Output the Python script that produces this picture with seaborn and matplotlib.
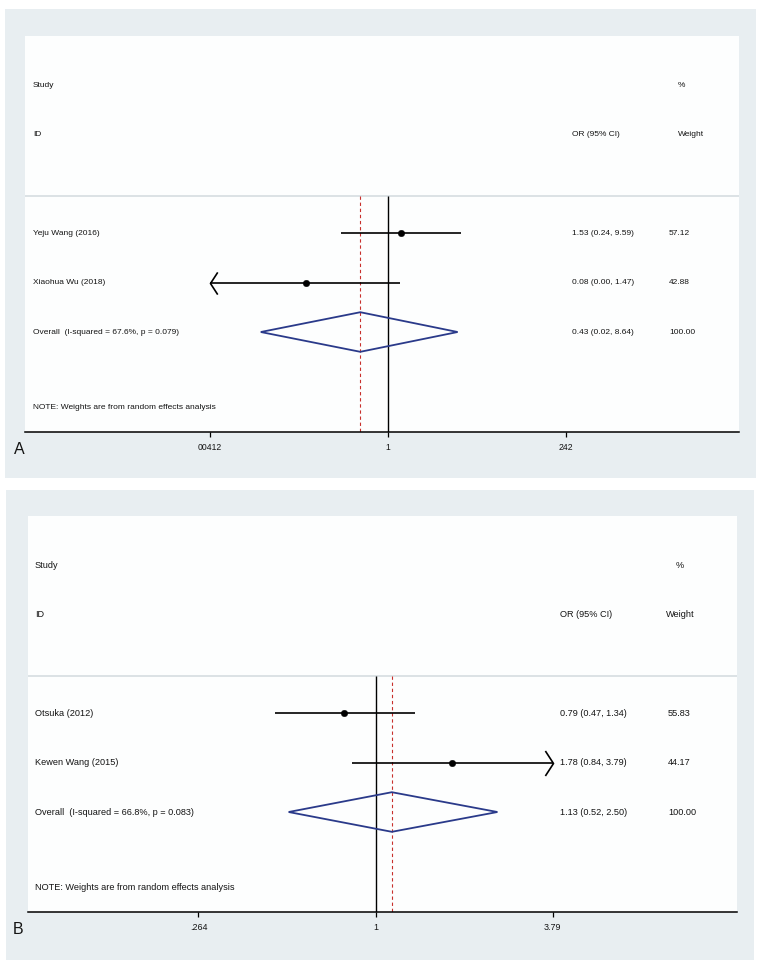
import numpy as np
import pandas as pd
import matplotlib
matplotlib.use("Agg")
import matplotlib.pyplot as plt
import matplotlib.transforms as mtransforms
from matplotlib.path import Path
from matplotlib.patches import Rectangle, Polygon
import seaborn as sns

# ---------------- data ----------------
a_studies = ["Yeju Wang (2016)", "Xiaohua Wu (2018)"]
a_or = [1.53, 0.08]
a_lo = [0.24, 0.00]
a_hi = [9.59, 1.47]
a_weight = [57.12, 42.88]
a_overall = [0.43, 0.02, 8.64]
a_overall_label = "Overall  (I-squared = 67.6%, p = 0.079)"
a_ticks = [0.00412, 1, 242]
a_ticklabels = ["00412", "1", "242"]

b_studies = ["Otsuka (2012)", "Kewen Wang (2015)"]
b_or = [0.79, 1.78]
b_lo = [0.47, 0.84]
b_hi = [1.34, 3.79]
b_weight = [55.83, 44.17]
b_overall = [1.13, 0.52, 2.50]
b_overall_label = "Overall  (I-squared = 66.8%, p = 0.083)"
b_ticks = [0.264, 1, 3.79]
b_ticklabels = [".264", "1", "3.79"]

note_text = "NOTE: Weights are from random effects analysis"

# ---------------- style ----------------
sns.set_style("white")
plt.rcParams["font.family"] = ["Liberation Sans", "DejaVu Sans"]

W, H = 764, 967
fig = plt.figure(figsize=(W / 100, H / 100), dpi=100)
fig.patch.set_facecolor("white")

GREY = "#e8eef1"
NAVY = "#2a3a8a"
RED = "#c8302c"
TXT = "#141414"


def fx(p):
    return p / W


def fy(p):
    return 1 - p / H


left_arrow = Path([(0.65, 1), (0, 0), (0.65, -1)], [Path.MOVETO, Path.LINETO, Path.LINETO])
right_arrow = Path([(-0.65, 1), (0, 0), (-0.65, -1)], [Path.MOVETO, Path.LINETO, Path.LINETO])


def draw_panel(ax_px, grey_px, studies, ors, los, his, weights, overall, ov_label,
               ticks, ticklabels, ln_lim, fs, tick_fs, arrow_ms, letter, letter_px, cols):
    gl, gt, gr, gb = grey_px
    fig.patches.append(Rectangle((fx(gl), fy(gb)), (gr - gl) / W, (gb - gt) / H,
                                 transform=fig.transFigure, facecolor=GREY,
                                 edgecolor="none", zorder=-5))
    l, t, r, b = ax_px
    ax = fig.add_axes([fx(l), fy(b), (r - l) / W, (b - t) / H])
    ax.set_zorder(1)
    ax.set_facecolor("#fdfefe")
    ax.set_xscale("log")
    ax.set_xlim(np.exp(ln_lim[0]), np.exp(ln_lim[1]))
    y_bottom, y_top = 4.02, -3.98
    ax.set_ylim(y_bottom, y_top)

    rows = np.arange(len(studies))
    ov_row = len(studies)
    sep_y = -0.74
    study_y, id_y, note_y = -2.98, -1.99, 3.52

    trans = mtransforms.blended_transform_factory(ax.transAxes, ax.transData)
    c_study, c_ci, c_w, c_wh, c_pct = cols

    # header
    ax.axhline(sep_y, color="#d9e0e3", lw=1.3, zorder=1)
    ax.text(c_study, study_y, "Study", transform=trans, va="center", ha="left", fontsize=fs, color=TXT)
    ax.text(c_pct, study_y, "%", transform=trans, va="center", ha="left", fontsize=fs, color=TXT)
    ax.text(c_study, id_y, "ID", transform=trans, va="center", ha="left", fontsize=fs, color=TXT)
    ax.text(c_ci, id_y, "OR (95% CI)", transform=trans, va="center", ha="left", fontsize=fs, color=TXT)
    ax.text(c_wh, id_y, "Weight", transform=trans, va="center", ha="left", fontsize=fs, color=TXT)

    # reference lines
    ax.vlines(1, sep_y, y_bottom, color="black", lw=1.0, zorder=2)
    ax.vlines(overall[0], sep_y, y_bottom, color=RED, lw=0.8, linestyles=(0, (3, 2.5)), zorder=2)

    lo_lim, hi_lim = ticks[0], ticks[-1]
    for i, (name, o, lo, hi, w) in enumerate(zip(studies, ors, los, his, weights)):
        y = rows[i]
        lo_c = max(lo, lo_lim)
        hi_c = min(hi, hi_lim)
        ax.hlines(y, lo_c, hi_c, color="black", lw=1.2, zorder=3)
        if lo <= lo_lim:
            ax.plot([lo_c], [y], marker=left_arrow, ms=arrow_ms, mfc="none", mec="black", mew=1.2, zorder=3)
        if hi >= hi_lim:
            ax.plot([hi_c], [y], marker=right_arrow, ms=arrow_ms, mfc="none", mec="black", mew=1.2, zorder=3)
        ax.text(c_study, y, name, transform=trans, va="center", ha="left", fontsize=fs, color=TXT)
        ax.text(c_ci, y, f"{o:.2f} ({lo:.2f}, {hi:.2f})", transform=trans, va="center", ha="left", fontsize=fs, color=TXT)
        ax.text(c_w, y, f"{w:.2f}", transform=trans, va="center", ha="left", fontsize=fs, color=TXT)

    df = pd.DataFrame({"or": ors, "row": rows})
    sns.scatterplot(data=df, x="or", y="row", ax=ax, color="black", s=22, marker="o",
                    edgecolor="black", linewidth=0.3, zorder=4, legend=False)

    # overall diamond
    est, olo, ohi = overall
    h = 0.4
    ax.add_patch(Polygon([(olo, ov_row), (est, ov_row - h), (ohi, ov_row), (est, ov_row + h)],
                         closed=True, fill=False, edgecolor=NAVY, lw=1.3, zorder=3))
    ax.text(c_study, ov_row, ov_label, transform=trans, va="center", ha="left", fontsize=fs, color=TXT)
    ax.text(c_ci, ov_row, f"{est:.2f} ({olo:.2f}, {ohi:.2f})", transform=trans, va="center", ha="left", fontsize=fs, color=TXT)
    ax.text(c_w, ov_row, "100.00", transform=trans, va="center", ha="left", fontsize=fs, color=TXT)

    ax.text(c_study, note_y, note_text, transform=trans, va="center", ha="left", fontsize=fs, color=TXT)

    # axis
    for s in ["top", "left", "right"]:
        ax.spines[s].set_visible(False)
    ax.spines["bottom"].set_color("black")
    ax.spines["bottom"].set_linewidth(1.1)
    ax.set_xticks(ticks)
    ax.set_xticklabels(ticklabels)
    ax.minorticks_off()
    ax.tick_params(axis="x", direction="out", length=3.8, width=0.9, pad=4,
                   labelsize=tick_fs, colors="black", labelcolor=TXT, bottom=True)
    ax.set_yticks([])
    ax.set_xlabel("")
    ax.set_ylabel("")
    fig.text(fx(letter_px[0]), fy(letter_px[1]), letter, ha="center", va="center",
             fontsize=11.5, color=TXT)
    return ax


# panel A
draw_panel(ax_px=(25, 36, 739, 432), grey_px=(5, 9, 756, 478),
           studies=a_studies, ors=a_or, los=a_lo, his=a_hi, weights=a_weight,
           overall=a_overall, ov_label=a_overall_label,
           ticks=a_ticks, ticklabels=a_ticklabels, ln_lim=(-11.18, 10.83),
           fs=6.0, tick_fs=6.2, arrow_ms=16, letter="A", letter_px=(19.5, 450),
           cols=((33 - 25) / 714, (572 - 25) / 714, (669 - 25) / 714,
                 (678 - 25) / 714, (678 - 25) / 714))

# panel B
draw_panel(ax_px=(28, 516, 737, 912), grey_px=(6, 490, 754, 960),
           studies=b_studies, ors=b_or, los=b_lo, his=b_hi, weights=b_weight,
           overall=b_overall, ov_label=b_overall_label,
           ticks=b_ticks, ticklabels=b_ticklabels, ln_lim=(-2.614, 2.718),
           fs=6.6, tick_fs=6.4, arrow_ms=18, letter="B", letter_px=(18.5, 930),
           cols=((35 - 28) / 709, (560 - 28) / 709, (668 - 28) / 709,
                 (666 - 28) / 709, (676 - 28) / 709))

fig.savefig("out.png", dpi=100, facecolor="white")
